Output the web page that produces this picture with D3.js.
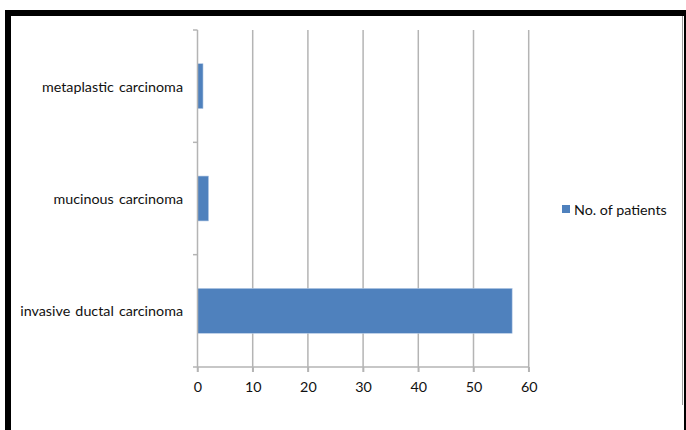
<!DOCTYPE html>
<html>
<head>
<meta charset="utf-8">
<script src="https://cdn.jsdelivr.net/npm/d3@7"></script>
<style>
  html, body { margin: 0; padding: 0; background: #fff; }
  svg { display: block; }
  text { font-family: Lato, "Open Sans", sans-serif; fill: #111; }
</style>
</head>
<body>
<svg id="chart" width="686" height="430"></svg>
<script>
// Histological types and patient counts
const categories = ["invasive ductal carcinoma", "mucinous carcinoma", "metaplastic carcinoma"];
const patients = [57, 2, 1];
const xTicks = [0, 10, 20, 30, 40, 50, 60];
const seriesName = "No. of patients";

const svg = d3.select("#chart");
const W = 686, H = 430;
const plot = { left: 197.5, right: 528.7, top: 30, bottom: 367 };
const fontSize = 14.3;

// Outer frame
svg.append("rect").attr("x", 5).attr("y", 10).attr("width", W - 5).attr("height", 6).attr("fill", "#000");
svg.append("rect").attr("x", 5).attr("y", 10).attr("width", 6).attr("height", H - 10).attr("fill", "#000");
svg.append("rect").attr("x", 684).attr("y", 10).attr("width", 2).attr("height", H - 10).attr("fill", "#000");
svg.append("line").attr("x1", 682.5).attr("x2", 682.5).attr("y1", 16).attr("y2", 405)
  .attr("stroke", "#9a9a9a").attr("stroke-width", 1);

const x = d3.scaleLinear().domain([0, 60]).range([plot.left, plot.right]);
const y = d3.scaleBand().domain(categories.slice().reverse()).range([plot.top, plot.bottom]).paddingInner(0.6).paddingOuter(0.3);
const yb = d3.scaleBand().domain(categories.slice().reverse()).range([plot.top, plot.bottom]);

const gridColor = "#b4b4b4";

// Vertical gridlines (extend slightly below the axis as tick marks)
svg.append("g").selectAll("line").data(xTicks.filter(d => d > 0)).join("line")
  .attr("x1", d => x(d)).attr("x2", d => x(d))
  .attr("y1", plot.top).attr("y2", plot.bottom + 5)
  .attr("stroke", gridColor).attr("stroke-width", 1.5);

// Bars
svg.append("g").selectAll("rect").data(categories).join("rect")
  .attr("x", x(0))
  .attr("y", d => y(d))
  .attr("width", (d, i) => x(patients[i]) - x(0))
  .attr("height", y.bandwidth())
  .attr("fill", "#4f81bd")
  .attr("stroke", "#b7cbe6").attr("stroke-width", 0.6);

// Value axis
const xAxis = svg.append("g").attr("transform", `translate(0,${plot.bottom})`)
  .call(d3.axisBottom(x).tickValues(xTicks).tickSize(5).tickPadding(10).tickFormat(d3.format("d")));
xAxis.select(".domain").remove();
xAxis.selectAll(".tick line").attr("stroke", gridColor).attr("stroke-width", 1.5);
xAxis.selectAll(".tick text").attr("font-size", fontSize).attr("fill", "#111")
  .attr("font-family", "Lato, 'Open Sans', sans-serif");
svg.append("line").attr("x1", plot.left - 4.5).attr("x2", plot.right)
  .attr("y1", plot.bottom).attr("y2", plot.bottom)
  .attr("stroke", gridColor).attr("stroke-width", 1.5);

// Category axis
svg.append("line").attr("x1", plot.left).attr("x2", plot.left)
  .attr("y1", plot.top).attr("y2", plot.bottom + 5)
  .attr("stroke", gridColor).attr("stroke-width", 1.5);
const bounds = [plot.top].concat(categories.slice().reverse().slice(1).map(c => yb(c)));
svg.append("g").selectAll("line").data(bounds).join("line")
  .attr("x1", plot.left - 4.5).attr("x2", plot.left)
  .attr("y1", d => d).attr("y2", d => d)
  .attr("stroke", gridColor).attr("stroke-width", 1.5);

svg.append("g").selectAll("text").data(categories).join("text")
  .attr("x", 183)
  .attr("y", d => yb(d) + yb.bandwidth() / 2)
  .attr("text-anchor", "end")
  .attr("dominant-baseline", "central")
  .attr("font-size", fontSize)
  .attr("word-spacing", 1.5)
  .text(d => d);

// Legend
const lg = svg.append("g").attr("transform", "translate(562,205)");
lg.append("rect").attr("width", 8).attr("height", 8).attr("fill", "#4f81bd");
lg.append("text").attr("x", 12).attr("y", 4.5).attr("dominant-baseline", "central")
  .attr("font-size", fontSize).text(seriesName);
</script>
</body>
</html>
